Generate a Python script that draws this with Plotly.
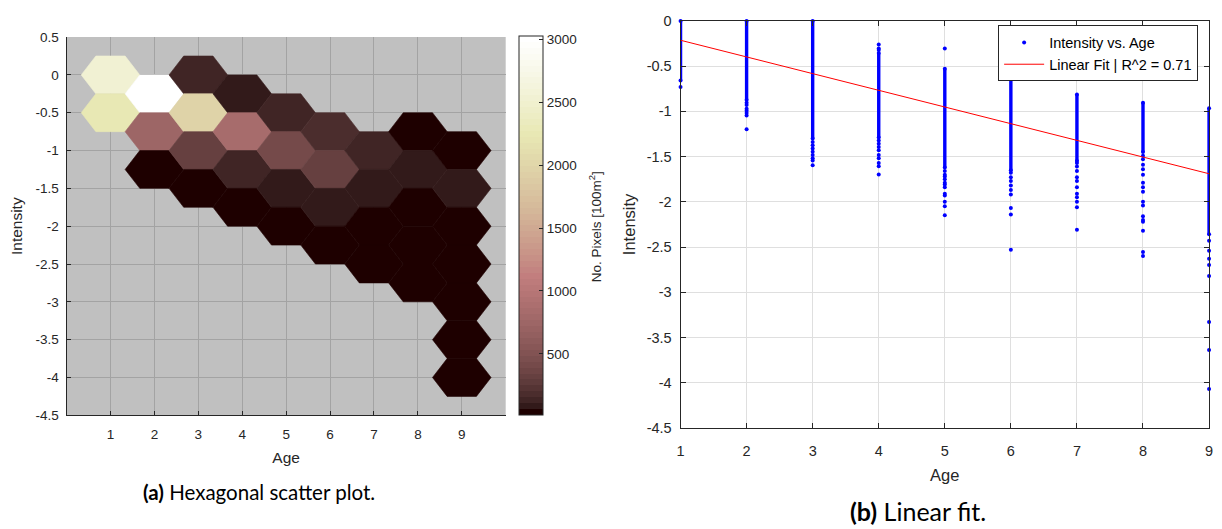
import numpy as np
import plotly.graph_objects as go

# ---------------- hexagonal binning (left panel) ----------------
hex_age = [1, 1,
           2, 2, 2,
           3, 3, 3, 3,
           4, 4, 4, 4,
           5, 5, 5, 5,
           6, 6, 6, 6,
           7, 7, 7, 7,
           8, 8, 8, 8, 8,
           9, 9, 9, 9, 9, 9, 9]
hex_intensity = [0.0, -0.5,
                 -0.25, -0.75, -1.25,
                 0.0, -0.5, -1.0, -1.5,
                 -0.25, -0.75, -1.25, -1.75,
                 -0.5, -1.0, -1.5, -2.0,
                 -0.75, -1.25, -1.75, -2.25,
                 -1.0, -1.5, -2.0, -2.5,
                 -0.75, -1.25, -1.75, -2.25, -2.75,
                 -1.0, -1.5, -2.0, -2.5, -3.0, -3.5, -4.0]
hex_count = [2530, 2240,
             3026, 740, 20,
             150, 1965, 320, 25,
             90, 835, 135, 30,
             135, 410, 81, 35,
             175, 310, 75, 28,
             130, 70, 30, 18,
             22, 70, 40, 25, 15,
             15, 75, 30, 20, 14, 12, 12]

hex_x_ticks = [1, 2, 3, 4, 5, 6, 7, 8, 9]
hex_y_ticks = [0.5, 0, -0.5, -1, -1.5, -2, -2.5, -3, -3.5, -4, -4.5]
hex_y_labels = ["0.5", "0", "-0.5", "-1", "-1.5", "-2", "-2.5", "-3", "-3.5", "-4", "-4.5"]
cbar_ticks = [500, 1000, 1500, 2000, 2500, 3000]

# ---------------- scatter + fit (right panel) ----------------
ages = [1, 2, 3, 4, 5, 6, 7, 8, 9]
# continuous runs of samples for each age (top, bottom)
run_top = [0.0, 0.0, 0.0, -0.355, -0.53, -0.625, -0.815, -0.905, -0.965]
run_bottom = [-0.66, -0.875, -1.30, -1.29, -1.62, -1.65, -1.55, -1.45, -2.36]
# separate samples outside the continuous runs
sparse_values = [
    [-0.73],
    [-0.904, -0.93, -0.972, -0.993, -1.018, -1.047, -1.197],
    [-1.34, -1.376, -1.41, -1.447, -1.483, -1.518, -1.543, -1.597],
    [-0.261, -0.304, -0.322, -1.322, -1.358, -1.394, -1.43, -1.483, -1.518,
     -1.572, -1.608, -1.697],
    [-0.304, -1.66, -1.70, -1.72, -1.75, -1.79, -1.81, -1.84, -1.91, -1.93,
     -2.0, -2.05, -2.15],
    [-1.68, -1.73, -1.77, -1.82, -1.87, -1.92, -2.07, -2.14, -2.53],
    [-1.57, -1.61, -1.66, -1.73, -1.77, -1.84, -1.91, -1.95, -2.0, -2.06, -2.31],
    [-1.49, -1.53, -1.59, -1.64, -1.70, -1.79, -1.84, -1.89, -2.0, -2.04, -2.16,
     -2.2, -2.22, -2.32, -2.555, -2.60],
    [-2.43, -2.54, -2.63, -2.70, -2.82, -3.33, -3.64, -4.07],
]
fit_slope = -0.1845
fit_intercept = -0.0295
fit_r2 = 0.71
fit_x = [1, 9]

scat_y_ticks = [0, -0.5, -1, -1.5, -2, -2.5, -3, -3.5, -4, -4.5]
scat_y_labels = ["0", "-0.5", "-1", "-1.5", "-2", "-2.5", "-3", "-3.5", "-4", "-4.5"]


# ---------------- colormap: sqrt((2*gray + hot)/3), 64 levels ----------------
def pink_map(m=64):
    n = int(3 / 8 * m)
    r = np.concatenate([np.arange(1, n + 1) / n, np.ones(m - n)])
    g = np.concatenate([np.zeros(n), np.arange(1, n + 1) / n, np.ones(m - 2 * n)])
    b = np.concatenate([np.zeros(2 * n), np.arange(1, m - 2 * n + 1) / (m - 2 * n)])
    hot = np.stack([r, g, b], axis=1)
    gray = np.linspace(0, 1, m)[:, None]
    return np.sqrt((2 * gray + hot) / 3)


NLEV = 64
cmap = pink_map(NLEV)
cmap_rgb = ["rgb(%d,%d,%d)" % tuple(np.round(c * 255).astype(int)) for c in cmap]
cmin, cmax = min(hex_count), max(hex_count)

colorscale = []
for i, c in enumerate(cmap_rgb):
    colorscale.append([i / NLEV, c])
    colorscale.append([(i + 1) / NLEV, c])


def level_color(v):
    idx = int((v - cmin) / (cmax - cmin) * NLEV)
    return cmap_rgb[min(max(idx, 0), NLEV - 1)]


FONT = "Liberation Sans, Arial, sans-serif"
CAPFONT = "Lato, sans-serif"
AX = "#262626"

fig = go.Figure()

# hexagons: pointy left/right, flat top/bottom
R_X = 2 / 3
H_Y = 0.25
for cx, cy, cnt in zip(hex_age, hex_intensity, hex_count):
    col = level_color(cnt)
    xs = [cx - R_X, cx - R_X / 2, cx + R_X / 2, cx + R_X, cx + R_X / 2, cx - R_X / 2, cx - R_X]
    ys = [cy, cy + H_Y, cy + H_Y, cy, cy - H_Y, cy - H_Y, cy]
    fig.add_trace(go.Scatter(
        x=xs, y=ys, mode="lines", fill="toself", fillcolor=col,
        line=dict(color=col, width=0.6), hoverinfo="skip", showlegend=False,
        xaxis="x", yaxis="y"))

# colour bar carrier
fig.add_trace(go.Scatter(
    x=hex_age, y=hex_intensity, mode="markers",
    marker=dict(size=0.1, color=hex_count, colorscale=colorscale, cmin=cmin, cmax=cmax,
                showscale=True,
                colorbar=dict(
                    x=518 / 1222, xanchor="left", xpad=0,
                    y=1 - 224.5 / 529, yanchor="middle", ypad=0,
                    len=391 / 529, lenmode="fraction",
                    thickness=24, thicknessmode="pixels",
                    outlinewidth=1, outlinecolor=AX,
                    tickvals=cbar_ticks, ticks="inside", ticklen=4, tickcolor=AX,
                    tickfont=dict(family=FONT, size=13.5, color=AX),
                )),
    hoverinfo="skip", showlegend=False, xaxis="x", yaxis="y"))

# continuous runs of samples
run_x, run_y = [], []
for a, t, b in zip(ages, run_top, run_bottom):
    run_x += [a, a, None]
    run_y += [t, b, None]
fig.add_trace(go.Scatter(
    x=run_x, y=run_y, mode="lines", line=dict(color="rgb(0,0,255)", width=3.4),
    cliponaxis=False, showlegend=False, legendgroup="pts", hoverinfo="skip",
    xaxis="x2", yaxis="y2"))

pt_x, pt_y = [], []
for a, t, b, vals in zip(ages, run_top, run_bottom, sparse_values):
    for v in [t, b] + vals:
        pt_x.append(a)
        pt_y.append(v)
fig.add_trace(go.Scatter(
    x=pt_x, y=pt_y, mode="markers", name="Intensity vs. Age", legendgroup="pts",
    marker=dict(color="rgb(0,0,255)", size=4), cliponaxis=False,
    xaxis="x2", yaxis="y2"))

fit_y = [fit_intercept + fit_slope * x for x in fit_x]
fig.add_trace(go.Scatter(
    x=fit_x, y=fit_y, mode="lines", name="Linear Fit | R^2 = %.2f" % fit_r2,
    line=dict(color="rgb(255,0,0)", width=1), xaxis="x2", yaxis="y2"))

tick_l = dict(family=FONT, size=13.5, color=AX)
tick_r = dict(family=FONT, size=14.5, color=AX)
title_l = dict(family=FONT, size=15.5, color=AX)
title_r = dict(family=FONT, size=16.5, color=AX)

fig.update_layout(
    width=1222, height=529, autosize=False,
    margin=dict(l=0, r=0, t=0, b=0),
    paper_bgcolor="white", plot_bgcolor="white",
    font=dict(family=FONT, color=AX),
    xaxis=dict(domain=[63 / 1222, 505 / 1222], range=[0, 10], tickvals=hex_x_ticks,
               showgrid=True, gridcolor="rgb(163,163,163)", gridwidth=1,
               zeroline=False, showline=True, linecolor=AX, linewidth=1,
               ticks="inside", ticklen=4, tickcolor=AX, tickfont=tick_l,
               ticklabelstandoff=7,
               title=dict(text="Age", font=title_l, standoff=10), anchor="y"),
    yaxis=dict(domain=[1 - 420 / 529, 1 - 30 / 529], range=[-4.5, 0.5],
               tickvals=hex_y_ticks, ticktext=hex_y_labels,
               showgrid=True, gridcolor="rgb(163,163,163)", gridwidth=1,
               zeroline=False, showline=True, linecolor=AX, linewidth=1,
               ticks="inside", ticklen=4, tickcolor=AX, tickfont=tick_l,
               ticklabelstandoff=4,
               title=dict(text="Intensity", font=title_l, standoff=9), anchor="x"),
    xaxis2=dict(domain=[681 / 1222, 1213 / 1222], range=[1, 9], tickvals=ages,
                showgrid=True, gridcolor="rgb(223,223,223)", gridwidth=1,
                zeroline=False, showline=True, mirror="ticks", linecolor=AX, linewidth=1,
                ticks="inside", ticklen=5, tickcolor=AX, tickfont=tick_r,
                ticklabelstandoff=10,
                title=dict(text="Age", font=title_r, standoff=11), anchor="y2"),
    yaxis2=dict(domain=[1 - 433 / 529, 1 - 13.3 / 529], range=[-4.5, 0],
                tickvals=scat_y_ticks, ticktext=scat_y_labels,
                showgrid=True, gridcolor="rgb(223,223,223)", gridwidth=1,
                zeroline=False, showline=True, mirror="ticks", linecolor=AX, linewidth=1,
                ticks="inside", ticklen=5, tickcolor=AX, tickfont=tick_r,
                ticklabelstandoff=5,
                title=dict(text="Intensity", font=title_r, standoff=6), anchor="x2"),
    legend=dict(x=1202 / 1222, xanchor="right", y=1 - 18 / 529, yanchor="top",
                bgcolor="white", bordercolor=AX, borderwidth=1,
                font=dict(family=FONT, size=14.5, color="black"),
                tracegroupgap=0, itemwidth=40),
    shapes=[dict(type="rect", xref="x domain", yref="y domain", x0=0, x1=1, y0=0, y1=1,
                 fillcolor="rgb(192,192,192)", line=dict(width=0), layer="below")],
    annotations=[
        # colour bar label
        dict(text="No. Pixels [100m<sup>2</sup>]", x=595 / 1222, y=1 - 226 / 529,
             xref="paper", yref="paper", showarrow=False, textangle=-90,
             xanchor="center", yanchor="middle",
             font=dict(family=FONT, size=13.5, color=AX)),
        dict(text="<b>(a)</b> Hexagonal scatter plot.", x=257 / 1222, y=1 - 499 / 529,
             xref="paper", yref="paper", showarrow=False, xanchor="center", yanchor="middle",
             font=dict(family=CAPFONT, size=20.5, color="black")),
        dict(text="<b>(b)</b> Linear fit.", x=920 / 1222, y=1 - 519 / 529,
             xref="paper", yref="paper", showarrow=False, xanchor="center", yanchor="middle",
             font=dict(family=CAPFONT, size=25, color="black")),
    ],
)

fig.write_html("out.html")
